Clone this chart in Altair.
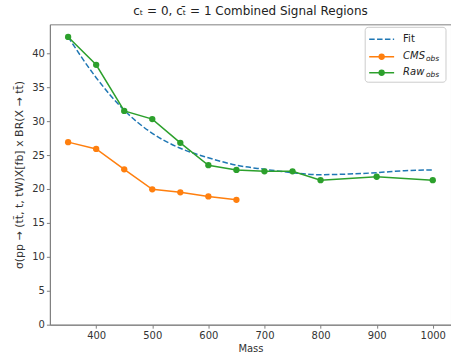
import altair as alt
import pandas as pd

# Signal cross-section limits vs. resonance mass
mass_raw = [350, 400, 450, 500, 550, 600, 650, 700, 750, 800, 900, 1000]
raw_obs = [42.4, 38.3, 31.5, 30.3, 26.8, 23.5, 22.8, 22.6, 22.6, 21.3, 21.8, 21.3]

mass_cms = [350, 400, 450, 500, 550, 600, 650]
cms_obs = [26.9, 25.9, 22.9, 19.95, 19.5, 18.9, 18.4]

mass_fit = [350, 400, 450, 500, 550, 600, 650, 700, 750, 800, 850, 900, 950, 1000]
fit_vals = [42.4, 36.4, 31.6, 28.2, 26.0, 24.6, 23.5, 22.9, 22.4, 22.1, 22.2, 22.4, 22.7, 22.8]

BLUE, ORANGE, GREEN = "#1f77b4", "#ff7f0e", "#2ca02c"
FONT = "DejaVu Sans"

raw_df = pd.DataFrame({"mass": mass_raw, "value": raw_obs})
cms_df = pd.DataFrame({"mass": mass_cms, "value": cms_obs})
fit_df = pd.DataFrame({"mass": mass_fit, "value": fit_vals})

x = alt.X("mass:Q", title="Mass",
          scale=alt.Scale(domain=[317.5, 1032.5], nice=False, zero=False),
          axis=alt.Axis(values=[400, 500, 600, 700, 800, 900, 1000], format="d", grid=False))
y = alt.Y("value:Q",
          title="σ(pp → (tt̄, t, tW)X[fb] x BR(X → tt̄)",
          scale=alt.Scale(domain=[0, 44.26], nice=False),
          axis=alt.Axis(values=[0, 5, 10, 15, 20, 25, 30, 35, 40], format="d", grid=False,
                        titleFontSize=11))

fit = alt.Chart(fit_df).mark_line(color=BLUE, strokeWidth=1.5, strokeDash=[5.5, 2.4],
                                   interpolate="monotone").encode(x=x, y=y)

cms_line = alt.Chart(cms_df).mark_line(color=ORANGE, strokeWidth=1.5).encode(x=x, y=y)
cms_pts = alt.Chart(cms_df).mark_circle(color=ORANGE, size=40, opacity=1).encode(x=x, y=y)

raw_line = alt.Chart(raw_df).mark_line(color=GREEN, strokeWidth=1.5).encode(x=x, y=y)
raw_pts = alt.Chart(raw_df).mark_circle(color=GREEN, size=40, opacity=1).encode(x=x, y=y)

# Legend box drawn in pixel space
one = alt.Data(values=[{}])
box = alt.Chart(one).mark_rect(fill="white", fillOpacity=0.8, stroke="#cccccc",
                               strokeWidth=1, cornerRadius=3).encode(
    x=alt.value(316), x2=alt.value(397), y=alt.value(3), y2=alt.value(58))

leg_fit = alt.Chart(one).mark_rule(color=BLUE, strokeWidth=1.5, strokeDash=[5.5, 2.4]).encode(
    x=alt.value(320), x2=alt.value(345), y=alt.value(15))
leg_cms = alt.Chart(one).mark_rule(color=ORANGE, strokeWidth=1.5).encode(
    x=alt.value(320), x2=alt.value(345), y=alt.value(32.5))
leg_raw = alt.Chart(one).mark_rule(color=GREEN, strokeWidth=1.5).encode(
    x=alt.value(320), x2=alt.value(345), y=alt.value(48.5))
leg_cms_pt = alt.Chart(one).mark_circle(color=ORANGE, size=40, opacity=1).encode(
    x=alt.value(332.5), y=alt.value(32.5))
leg_raw_pt = alt.Chart(one).mark_circle(color=GREEN, size=40, opacity=1).encode(
    x=alt.value(332.5), y=alt.value(48.5))

def label(txt, px, py, size=10, italic=False):
    return alt.Chart(one).mark_text(text=txt, align="left", baseline="middle", font=FONT,
                                    fontSize=size, fontStyle="italic" if italic else "normal",
                                    color="#222222").encode(x=alt.value(px), y=alt.value(py))

legend = [
    box, leg_fit, leg_cms, leg_raw, leg_cms_pt, leg_raw_pt,
    label("Fit", 354, 15),
    label("CMS", 354, 32, italic=True),
    label("obs", 377, 35, size=7.5, italic=True),
    label("Raw", 354, 48, italic=True),
    label("obs", 377, 51, size=7.5, italic=True),
]

chart = alt.layer(fit, cms_line, cms_pts, raw_line, raw_pts, *legend).properties(
    width=402, height=301,
    title=alt.TitleParams("cₜ = 0, cₜ̄ = 1 Combined Signal Regions", font=FONT, fontSize=12,
                          fontWeight="normal", color="#222222", anchor="middle", offset=6),
    autosize="none",
    padding={"left": 50, "top": 24, "right": 0, "bottom": 33},
).configure_view(stroke="#808080", strokeWidth=1).configure_axis(
    labelFont=FONT, titleFont=FONT, labelFontSize=10, titleFontSize=10,
    labelColor="#333333", titleColor="#333333", titleFontWeight="normal",
    domainColor="#808080", tickColor="#808080", tickSize=3.5, labelPadding=2,
).configure_axisY(titlePadding=7).configure_axisX(titlePadding=3)

chart.save("out.html", embed_options={"renderer": "svg", "actions": False})
